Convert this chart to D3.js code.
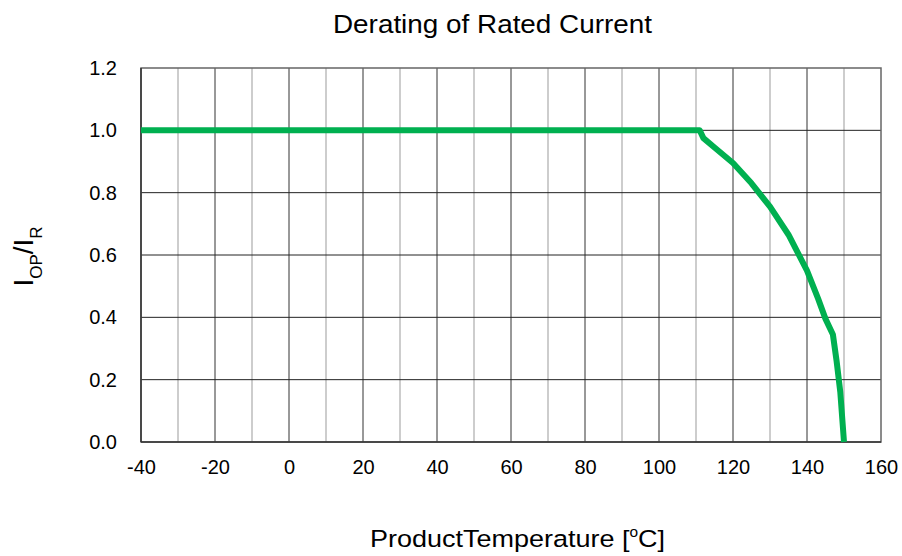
<!DOCTYPE html>
<html>
<head>
<meta charset="utf-8">
<script src="https://cdn.jsdelivr.net/npm/d3@7"></script>
<style>
  body { margin: 0; background: #fff; }
  svg text { font-family: "Liberation Sans", Arial, sans-serif; fill: #000; }
</style>
</head>
<body>
<svg id="chart" width="902" height="556"></svg>
<script>
// temperature (°C) and I_OP/I_R
const temps = [-40, 110, 111, 112, 115, 120, 125, 130, 135, 140, 143, 145, 147, 148, 149, 150];
const ratio = [1.0, 1.0, 1.0, 0.975, 0.945, 0.895, 0.83, 0.755, 0.665, 0.55, 0.46, 0.395, 0.345, 0.26, 0.16, 0.0];

const xTicks = [-40, -20, 0, 20, 40, 60, 80, 100, 120, 140, 160];
const xMinor = [-30, -10, 10, 30, 50, 70, 90, 110, 130, 150];
const yTicks = [0, 0.2, 0.4, 0.6, 0.8, 1.0, 1.2];

const svg = d3.select("#chart");
const margin = { left: 141, right: 21, top: 68, bottom: 114 };
const W = 902, H = 556;

const x = d3.scaleLinear().domain([-40, 160]).range([margin.left, W - margin.right]);
const y = d3.scaleLinear().domain([0, 1.2]).range([H - margin.bottom, margin.top]);

// minor vertical grid
svg.append("g").selectAll("line").data(xMinor).join("line")
  .attr("x1", d => x(d)).attr("x2", d => x(d))
  .attr("y1", y(0)).attr("y2", y(1.2))
  .attr("stroke", "#bdbdbd").attr("stroke-width", 1.5);

// major vertical grid
svg.append("g").selectAll("line").data(xTicks.slice(1, -1)).join("line")
  .attr("x1", d => x(d)).attr("x2", d => x(d))
  .attr("y1", y(0)).attr("y2", y(1.2))
  .attr("stroke", "#333").attr("stroke-width", 1);

// horizontal grid
svg.append("g").selectAll("line").data(yTicks.slice(1, -1)).join("line")
  .attr("x1", x(-40)).attr("x2", x(160))
  .attr("y1", d => y(d)).attr("y2", d => y(d))
  .attr("stroke", "#222").attr("stroke-width", 1);

// frame
svg.append("rect")
  .attr("x", x(-40)).attr("y", y(1.2))
  .attr("width", x(160) - x(-40)).attr("height", y(0) - y(1.2))
  .attr("fill", "none").attr("stroke", "#666").attr("stroke-width", 1.5);
svg.append("line")
  .attr("x1", x(-40)).attr("x2", x(-40)).attr("y1", y(0)).attr("y2", y(1.2))
  .attr("stroke", "#333").attr("stroke-width", 1.5);
svg.append("line")
  .attr("x1", x(-40)).attr("x2", x(160)).attr("y1", y(0)).attr("y2", y(0))
  .attr("stroke", "#333").attr("stroke-width", 1.5);

// axes (labels only)
const xAxis = svg.append("g").attr("transform", `translate(0,${y(0)})`)
  .call(d3.axisBottom(x).tickValues(xTicks).tickSize(0).tickPadding(18).tickFormat(d => String(d)));
const yAxis = svg.append("g").attr("transform", `translate(${x(-40)},0)`)
  .call(d3.axisLeft(y).tickValues(yTicks).tickSize(0).tickPadding(24).tickFormat(d3.format(".1f")));
[xAxis, yAxis].forEach(g => {
  g.select(".domain").remove();
  g.selectAll("text").attr("font-size", 20).attr("font-family", "Liberation Sans, Arial, sans-serif").attr("fill", "#000");
});

// curve
const line = d3.line().x((d, i) => x(temps[i])).y(d => y(d));
svg.append("path").datum(ratio)
  .attr("d", line)
  .attr("fill", "none")
  .attr("stroke", "#00b050")
  .attr("stroke-width", 6)
  .attr("stroke-linejoin", "round");

// title
svg.append("text").attr("x", 492.5).attr("y", 33)
  .attr("text-anchor", "middle").attr("font-size", 25)
  .attr("textLength", 319).attr("lengthAdjust", "spacingAndGlyphs")
  .text("Derating of Rated Current");

// x label
const xl = svg.append("text").attr("x", 517.5).attr("y", 547)
  .attr("text-anchor", "middle").attr("font-size", 24.5)
  .attr("textLength", 295).attr("lengthAdjust", "spacingAndGlyphs");
xl.append("tspan").text("ProductTemperature [");
xl.append("tspan").attr("font-size", 14).attr("dy", -10).text("o");
xl.append("tspan").attr("dy", 10).text("C]");

// y label
const yl = svg.append("text").attr("transform", "translate(33,256.5) rotate(-90)")
  .attr("text-anchor", "middle").attr("font-size", 28);
yl.append("tspan").text("I");
yl.append("tspan").attr("font-size", 17).attr("dy", 9).text("OP");
yl.append("tspan").attr("dy", -9).text("/I");
yl.append("tspan").attr("font-size", 17).attr("dy", 9).text("R");
</script>
</body>
</html>
